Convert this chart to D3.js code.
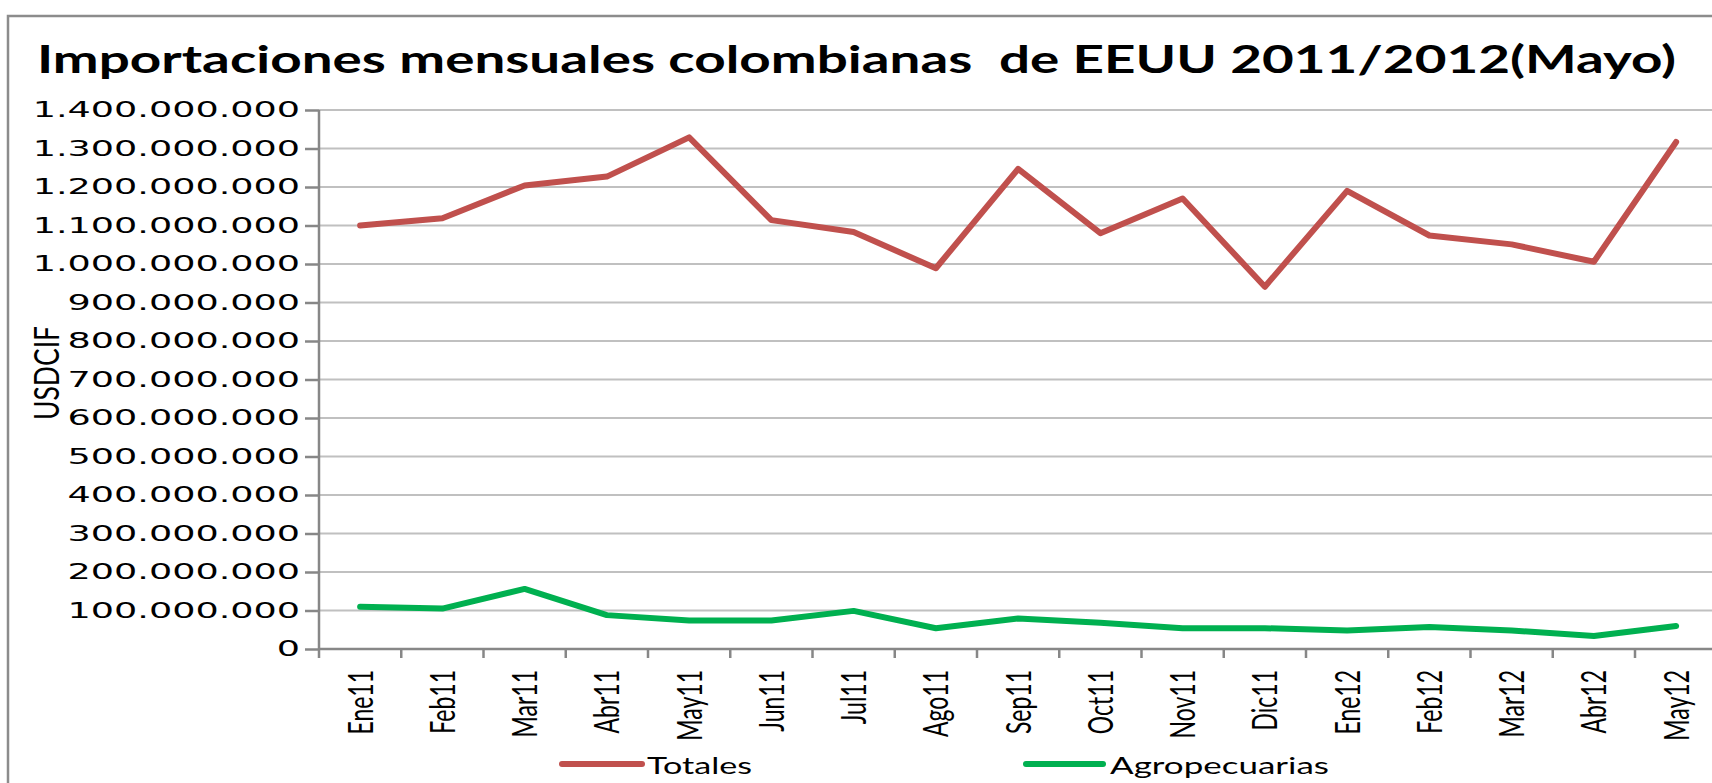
<!DOCTYPE html>
<html>
<head>
<meta charset="utf-8">
<script src="https://d3js.org/d3.v7.min.js"></script>
<style>
  html, body { margin: 0; padding: 0; background: #fff; }
  svg { display: block; }
</style>
</head>
<body>
<div id="chart"></div>
<script>
// ── Datos ──────────────────────────────────────────────
const meses = ['Ene11', 'Feb11', 'Mar11', 'Abr11', 'May11', 'Jun11', 'Jul11', 'Ago11', 'Sep11',
               'Oct11', 'Nov11', 'Dic11', 'Ene12', 'Feb12', 'Mar12', 'Abr12', 'May12'];

const totales = [1100e6, 1119e6, 1204e6, 1227e6, 1329e6, 1114e6, 1083e6, 989e6, 1247e6,
                 1080e6, 1170e6, 941e6, 1190e6, 1074e6, 1051e6, 1006e6, 1317e6];

const agropecuarias = [110e6, 105e6, 156e6, 88e6, 74e6, 74e6, 99e6, 54e6, 79e6,
                       68e6, 54e6, 54e6, 48e6, 57e6, 48e6, 34e6, 60e6];

const yTicks = d3.range(0, 1400e6 + 1, 100e6);

const series = [
  { name: 'Totales',       values: totales,       color: '#c0504d' },
  { name: 'Agropecuarias', values: agropecuarias, color: '#00b050' }
];

// ── Layout ─────────────────────────────────────────────
const W = 1712, H = 783;
const plotLeft = 319, plotTop = 110, plotBottom = 649;
const step = 82.25;
const plotRight = plotLeft + step * meses.length;

const svg = d3.select('#chart').append('svg')
  .attr('width', W).attr('height', H);

// marco exterior
svg.append('path')
  .attr('d', `M8,${H + 5} L8,16 L${W + 5},16`)
  .attr('fill', 'none')
  .attr('stroke', '#8c8c8c')
  .attr('stroke-width', 2.5);

// título
svg.append('text')
  .attr('x', 37).attr('y', 73)
  .attr('textLength', 1639)
  .attr('lengthAdjust', 'spacingAndGlyphs')
  .style('white-space', 'pre')
  .attr('font-family', 'Lato, "Open Sans", sans-serif')
  .attr('font-weight', 'bold')
  .attr('font-size', 38)
  .attr('fill', '#000')
  .text('Importaciones mensuales colombianas  de EEUU 2011/2012(Mayo)');

// ── Escalas ────────────────────────────────────────────
const x = d3.scaleBand().domain(meses).range([plotLeft, plotRight]);
const y = d3.scaleLinear().domain([0, 1400e6]).range([plotBottom, plotTop]);

const locale = d3.formatLocale({ decimal: ',', thousands: '.', grouping: [3], currency: ['', ''] });
const fmt = locale.format(',d');

// rejilla
svg.append('g')
  .selectAll('line')
  .data(yTicks.filter(d => d > 0))
  .join('line')
  .attr('x1', plotLeft).attr('x2', plotRight)
  .attr('y1', d => y(d)).attr('y2', d => y(d))
  .attr('stroke', '#c0c0c0')
  .attr('stroke-width', 2);

// eje Y
const yScaleX = 1.74;
const yAxis = svg.append('g')
  .attr('transform', `translate(${plotLeft},0)`)
  .call(d3.axisLeft(y).tickValues(yTicks).tickFormat(fmt).tickSize(14).tickSizeOuter(0));
yAxis.select('.domain').remove();
yAxis.selectAll('.tick line').attr('stroke', '#878787').attr('stroke-width', 2.5);
yAxis.selectAll('.tick text')
  .attr('x', -19 / yScaleX)
  .attr('transform', `scale(${yScaleX},1)`)
  .attr('font-family', '"DejaVu Sans", Verdana, sans-serif')
  .attr('font-size', 21)
  .attr('fill', '#000');

svg.append('line')
  .attr('x1', plotLeft).attr('x2', plotLeft)
  .attr('y1', plotTop).attr('y2', plotBottom + 9)
  .attr('stroke', '#878787').attr('stroke-width', 2.5);

// eje X
svg.append('line')
  .attr('x1', plotLeft).attr('x2', plotRight)
  .attr('y1', plotBottom).attr('y2', plotBottom)
  .attr('stroke', '#878787').attr('stroke-width', 2.5);

svg.append('g')
  .selectAll('line')
  .data(meses.slice(1).concat(['__end']))
  .join('line')
  .attr('x1', d => d === '__end' ? plotRight : x(d))
  .attr('x2', d => d === '__end' ? plotRight : x(d))
  .attr('y1', plotBottom).attr('y2', plotBottom + 9)
  .attr('stroke', '#878787').attr('stroke-width', 2.5);

svg.append('g')
  .selectAll('text')
  .data(meses)
  .join('text')
  .attr('transform', d => `translate(${x(d) + x.bandwidth() / 2},${plotBottom + 21}) rotate(-90) scale(1,1.5)`)
  .attr('text-anchor', 'end')
  .attr('dy', '0.36em')
  .attr('font-family', 'Lato, "Open Sans", sans-serif')
  .attr('font-size', 23)
  .attr('fill', '#000')
  .text(d => d);

// título eje Y
svg.append('text')
  .attr('transform', 'translate(46,373) rotate(-90) scale(1,1.3)')
  .attr('text-anchor', 'middle')
  .attr('dy', '0.36em')
  .attr('textLength', 94)
  .attr('lengthAdjust', 'spacingAndGlyphs')
  .attr('font-family', 'Lato, "Open Sans", sans-serif')
  .attr('font-size', 27)
  .attr('fill', '#000')
  .text('USDCIF');

// ── Líneas ─────────────────────────────────────────────
const line = d3.line()
  .x((d, i) => x(meses[i]) + x.bandwidth() / 2)
  .y(d => y(d));

svg.append('g')
  .selectAll('path')
  .data(series)
  .join('path')
  .attr('d', d => line(d.values))
  .attr('fill', 'none')
  .attr('stroke', d => d.color)
  .attr('stroke-width', 6)
  .attr('stroke-linejoin', 'round')
  .attr('stroke-linecap', 'round');

// ── Leyenda ────────────────────────────────────────────
const legendPos = [
  { x1: 562, x2: 642, tx: 647, tl: 105 },
  { x1: 1026, x2: 1103, tx: 1110, tl: 219 }
];

const legend = svg.append('g')
  .selectAll('g')
  .data(series)
  .join('g');

legend.append('line')
  .attr('x1', (d, i) => legendPos[i].x1)
  .attr('x2', (d, i) => legendPos[i].x2)
  .attr('y1', 764).attr('y2', 764)
  .attr('stroke', d => d.color)
  .attr('stroke-width', 6)
  .attr('stroke-linecap', 'round');

legend.append('text')
  .attr('x', (d, i) => legendPos[i].tx)
  .attr('y', 774)
  .attr('textLength', (d, i) => legendPos[i].tl)
  .attr('lengthAdjust', 'spacingAndGlyphs')
  .attr('font-family', 'Lato, "Open Sans", sans-serif')
  .attr('font-size', 23.5)
  .attr('fill', '#000')
  .text(d => d.name);
</script>
</body>
</html>
